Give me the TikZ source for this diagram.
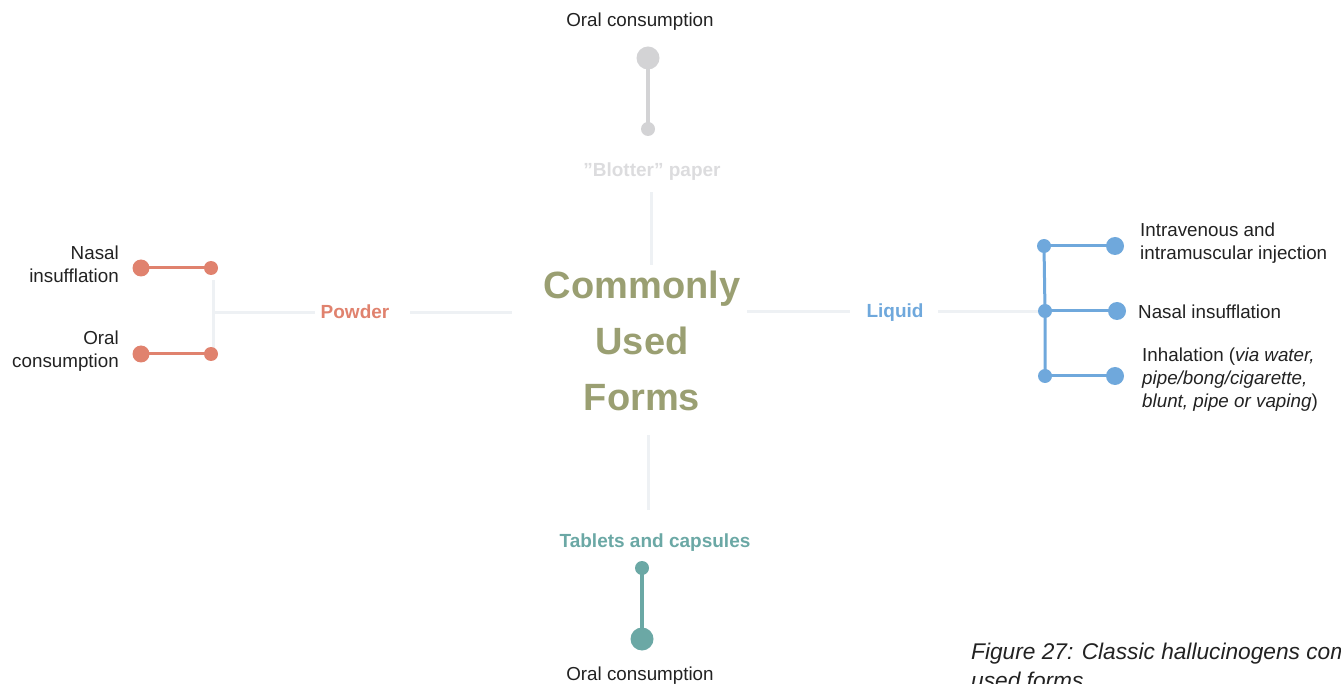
\documentclass[tikz,border=0pt]{standalone}
\usepackage{fontspec}
\setmainfont{Liberation Sans}
\definecolor{salmon}{HTML}{E0826E}
\definecolor{lblue}{HTML}{6FA8DC}
\definecolor{teal2}{HTML}{6BA8A5}
\definecolor{olive2}{HTML}{9A9F72}
\definecolor{dotgray}{HTML}{D3D3D5}
\definecolor{blotgray}{HTML}{DCDCDE}
\definecolor{faint}{HTML}{EEF1F4}
\definecolor{txt}{HTML}{222222}
\tikzset{
  lbl/.style={font=\fontsize{18.8}{23}\selectfont, text=txt, inner sep=0pt},
  cat/.style={font=\bfseries\fontsize{19}{23}\selectfont, inner sep=0pt},
  bigdot/.style={circle, fill=#1, minimum size=18pt, inner sep=0pt},
  smalldot/.style={circle, fill=#1, minimum size=14pt, inner sep=0pt},
  faintline/.style={draw=faint, line width=3pt},
}
\begin{document}
\begin{tikzpicture}[x=1pt,y=-1pt]
\useasboundingbox (0,0) rectangle (1341,684);
% centre
\node[font=\bfseries\fontsize{38}{56}\selectfont, text=olive2, align=center, inner sep=0pt] (title) at (642,341) {Commonly\\Used\\Forms};
% top
\node[lbl, anchor=base] (topl) at (640,27) {Oral consumption};
\node[circle, fill=dotgray, minimum size=23pt, inner sep=0pt] (tb) at (648,58) {};
\node[smalldot=dotgray] (ts) at (648,129) {};
\draw[dotgray, line width=4pt] (tb.center) -- (ts.center);
\node[cat, text=blotgray, anchor=base] (blot) at (652,177) {”Blotter” paper};
\coordinate (t1) at (651,192); \coordinate (t2) at (651,265);
\draw[faintline] (t1) -- (t2);
% left
\node[cat, text=salmon, anchor=base] (powder) at (355,319) {Powder};
\coordinate (pl1) at (410,313); \coordinate (pl2) at (512,313);
\coordinate (pj) at (213,313); \coordinate (pr) at (315,313);
\coordinate (pv1) at (213,280); \coordinate (pv2) at (213,348);
\draw[faintline] (pl1) -- (pl2);
\draw[faintline] (pj) -- (pr);
\draw[faintline] (pv1) -- (pv2);
\node[bigdot=salmon, minimum size=17pt] (pb1) at (141,268) {};
\node[smalldot=salmon] (ps1) at (211,268) {};
\node[bigdot=salmon, minimum size=17pt] (pb2) at (141,354) {};
\node[smalldot=salmon] (ps2) at (211,354) {};
\draw[salmon, line width=3pt] (pb1.center) -- (ps1.center);
\draw[salmon, line width=3pt] (pb2.center) -- (ps2.center);
\node[lbl, align=right, anchor=east] (pn) at (119,264) {Nasal\\insufflation};
\node[lbl, align=right, anchor=east] (po) at (119,351) {Oral\\consumption};
% right
\node[cat, text=lblue, anchor=base] (liquid) at (895,318) {Liquid};
\coordinate (ll1) at (747,312); \coordinate (ll2) at (850,312);
\coordinate (lr1) at (938,312); \coordinate (lr2) at (1040,312);
\draw[faintline] (ll1) -- (ll2);
\draw[faintline] (lr1) -- (lr2);
\node[smalldot=lblue] (ls1) at (1044,246) {};
\node[smalldot=lblue] (ls2) at (1045,311) {};
\node[smalldot=lblue] (ls3) at (1045,376) {};
\node[bigdot=lblue] (lb1) at (1115,246) {};
\node[bigdot=lblue] (lb2) at (1117,311) {};
\node[bigdot=lblue] (lb3) at (1115,376) {};
\draw[lblue, line width=3pt] (ls1.center) -- (ls2.center) -- (ls3.center);
\draw[lblue, line width=3pt] (ls1.center) -- (lb1.center);
\draw[lblue, line width=3pt] (ls2.center) -- (lb2.center);
\draw[lblue, line width=3pt] (ls3.center) -- (lb3.center);
\node[lbl, align=left, anchor=west] (iv) at (1140,243) {Intravenous and\\intramuscular injection};
\node[lbl, anchor=west] (ni) at (1138,312) {Nasal insufflation};
\node[lbl, align=left, anchor=west] (inh) at (1142,380) {Inhalation (\textit{via water,}\\\textit{pipe/bong/cigarette,}\\\textit{blunt, pipe or vaping})};
% bottom
\coordinate (b1) at (648,435); \coordinate (b2) at (648,510);
\draw[faintline] (b1) -- (b2);
\node[cat, text=teal2, anchor=base] (tab) at (655,547) {Tablets and capsules};
\node[smalldot=teal2] (bs) at (642,568) {};
\node[circle, fill=teal2, minimum size=23pt, inner sep=0pt] (bb) at (642,639) {};
\draw[teal2, line width=4pt] (bs.center) -- (bb.center);
\node[lbl, anchor=base] (botl) at (640,680) {Oral consumption};
% caption
\node[font=\itshape\fontsize{22.7}{28}\selectfont, text=txt, anchor=base west, inner sep=0pt] (cap1) at (971,659) {Figure 27: Classic hallucinogens commonly};
\node[font=\itshape\fontsize{22.7}{28}\selectfont, text=txt, anchor=base west, inner sep=0pt] (cap2) at (971,688) {used forms};
\end{tikzpicture}
\end{document}
